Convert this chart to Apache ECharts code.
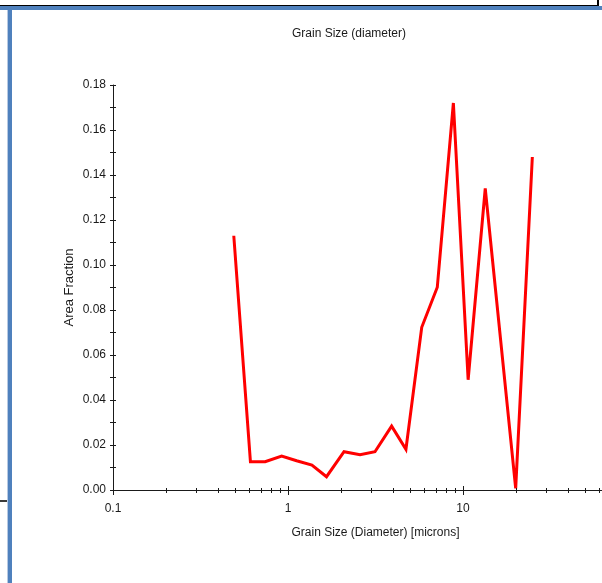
<!DOCTYPE html>
<html>
<head>
<meta charset="utf-8">
<title>Grain Size (diameter)</title>
<script src="https://cdn.jsdelivr.net/npm/echarts@6/dist/echarts.min.js"></script>
<style>
  html, body { margin: 0; padding: 0; background: #ffffff; }
  #chart { width: 602px; height: 583px; }
</style>
</head>
<body>
<div id="chart"></div>
<script>
// Grain size bins (microns) and the area fraction measured in each bin
const grainSize = [0.49, 0.61, 0.74, 0.92, 1.12, 1.37, 1.66, 2.09, 2.58, 3.14, 3.91, 4.72, 5.81, 7.13, 8.81, 10.7, 13.4, 20.0, 24.9];
const areaFraction = [0.113, 0.0126, 0.0126, 0.0151, 0.0130, 0.0111, 0.0059, 0.0170, 0.0157, 0.0170, 0.0284, 0.0181, 0.0723, 0.0901, 0.172, 0.049, 0.134, 0.0007, 0.148];

// Log-axis tick positions: decades and the 2..9 steps inside each decade
const majorTicks = [0.1, 1, 10, 100];
const minorTicks = [0.2, 0.3, 0.4, 0.5, 0.6, 0.7, 0.8, 0.9, 2, 3, 4, 5, 6, 7, 8, 9, 20, 30, 40, 50, 60, 70, 80, 90];

// Y axis tick labels
const yTicks = [0.00, 0.02, 0.04, 0.06, 0.08, 0.10, 0.12, 0.14, 0.16, 0.18];

const FONT = '"Liberation Sans", Arial, sans-serif';
const INK = '#1a1a1a';
const FRAME_BLUE = '#4f81bd';

const chart = echarts.init(document.getElementById('chart'));

const tickData = majorTicks.map(v => [v, 1]).concat(minorTicks.map(v => [v, 0]));

const yBase = {
  type: 'value',
  min: yTicks[0],
  max: yTicks[yTicks.length - 1],
  interval: 0.02,
  splitLine: { show: false },
  minorTick: { show: true, splitNumber: 2, length: 3, lineStyle: { color: INK, width: 1 } },
  minorSplitLine: { show: false }
};

chart.setOption({
  backgroundColor: '#ffffff',
  animation: false,
  title: {
    text: 'Grain Size (diameter)',
    left: 292,
    top: 28,
    padding: 0,
    textStyle: { fontFamily: FONT, fontSize: 12, fontWeight: 'normal', color: INK }
  },
  // the plot runs on past the right edge of the page (three decades wide)
  grid: { left: 113, top: 85, bottom: 93, width: 525, containLabel: false, outerBoundsMode: 'none' },
  xAxis: {
    type: 'log',
    logBase: 10,
    min: 0.1,
    max: 100,
    name: 'Grain Size (Diameter) [microns]',
    nameLocation: 'middle',
    nameGap: 37,
    nameTextStyle: { fontFamily: FONT, fontSize: 12, color: INK },
    axisLine: { show: true, onZero: false, lineStyle: { color: INK, width: 1 } },
    axisTick: { show: false },
    splitLine: { show: false },
    axisLabel: {
      fontFamily: FONT, fontSize: 12, color: INK, margin: 13,
      formatter: v => String(v)
    }
  },
  yAxis: [
    Object.assign({}, yBase, {
      name: 'Area Fraction',
      nameLocation: 'middle',
      nameGap: 37,
      nameMoveOverlap: false,
      nameTextStyle: { fontFamily: FONT, fontSize: 13, color: INK },
      axisLine: { show: true, lineStyle: { color: INK, width: 1 } },
      axisTick: { show: true, inside: false, length: 3, lineStyle: { color: INK, width: 1 } },
      axisLabel: {
        fontFamily: FONT, fontSize: 12, color: INK, margin: 7,
        formatter: v => v.toFixed(2)
      }
    }),
    Object.assign({}, yBase, {
      position: 'left',
      axisLine: { show: false },
      axisTick: { show: true, inside: true, length: 3, lineStyle: { color: INK, width: 1 } },
      axisLabel: { show: false }
    })
  ],
  series: [
    {
      name: 'Area Fraction',
      type: 'line',
      xAxisIndex: 0,
      yAxisIndex: 0,
      data: grainSize.map((x, i) => [x, areaFraction[i]]),
      symbol: 'none',
      lineStyle: { color: '#ff0000', width: 3, cap: 'butt', join: 'miter' },
      z: 3
    },
    {
      // crossing tick marks along the logarithmic x axis
      type: 'custom',
      xAxisIndex: 0,
      yAxisIndex: 0,
      clip: false,
      silent: true,
      data: tickData,
      z: 4,
      renderItem: (params, api) => {
        const p = api.coord([api.value(0), 0]);
        const major = api.value(1) === 1;
        const x = Math.round(p[0]) + 0.5;
        const y = Math.round(p[1]);
        return {
          type: 'line',
          shape: { x1: x, y1: y - (major ? 4 : 2), x2: x, y2: y + (major ? 5 : 3) },
          style: { stroke: INK, lineWidth: 1 }
        };
      }
    }
  ],
  graphic: [
    { type: 'rect', shape: { x: 0, y: 5, width: 598, height: 1 }, style: { fill: '#000000' }, silent: true },
    { type: 'rect', shape: { x: 597, y: 0, width: 2, height: 6 }, style: { fill: '#000000' }, silent: true },
    { type: 'rect', shape: { x: 0, y: 6, width: 602, height: 4 }, style: { fill: FRAME_BLUE }, silent: true },
    { type: 'rect', shape: { x: 7, y: 10, width: 1, height: 573 }, style: { fill: '#b7c9e2' }, silent: true },
    { type: 'rect', shape: { x: 8, y: 6, width: 4, height: 577 }, style: { fill: FRAME_BLUE }, silent: true },
    { type: 'rect', shape: { x: 0, y: 500, width: 7, height: 2 }, style: { fill: '#3a3a3a' }, silent: true }
  ]
});
</script>
</body>
</html>
